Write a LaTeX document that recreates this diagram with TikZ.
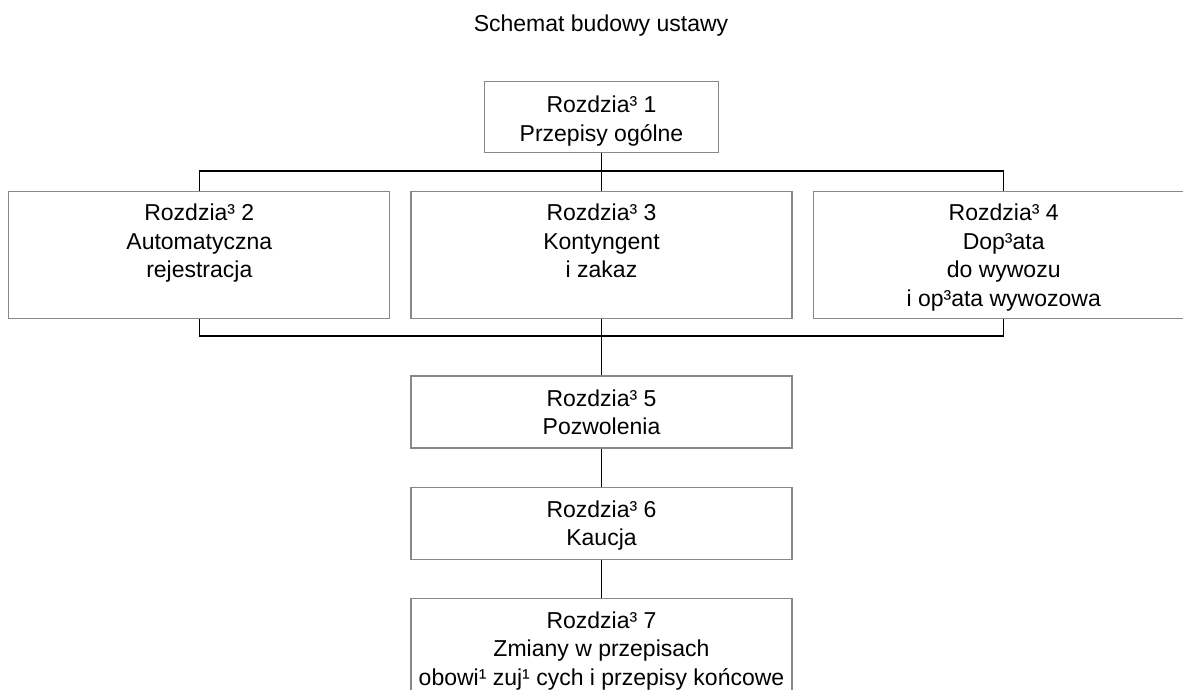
\documentclass[tikz,border=0pt]{standalone}
\usepackage{fontspec}
\setmainfont{Liberation Sans}
\usepackage{tikz}
\usetikzlibrary{positioning}
\definecolor{boxgray}{HTML}{888888}

\begin{document}
\begin{tikzpicture}[x=1pt, y=-1pt, node distance=38pt, line width=1.4pt,
  chap/.style={draw=boxgray, line width=1.2pt, inner sep=0pt,
    font=\fontsize{23}{28.5}\selectfont}]

  \useasboundingbox (0,0) rectangle (1183,689);
  \clip (0,0) rectangle (1183,689);

  \node[font=\fontsize{23}{28.5}\selectfont] (title) at (601,26) {Schemat budowy ustawy};

  % rozdzialy
  \node[chap, anchor=north] (r1) at (601.5,81)
    {\parbox[c][71pt][t]{234pt}{\centering\rule{0pt}{31pt}Rozdzia³ 1\\Przepisy ogólne}};
  \node[chap, below=of r1] (r3)
    {\parbox[c][127pt][t]{381pt}{\centering\rule{0pt}{29pt}Rozdzia³ 3\\Kontyngent\\i zakaz}};
  \node[chap, left=20pt of r3] (r2)
    {\parbox[c][127pt][t]{381pt}{\centering\rule{0pt}{29pt}Rozdzia³ 2\\Automatyczna\\rejestracja}};
  \node[chap, right=20pt of r3] (r4)
    {\parbox[c][127pt][t]{381pt}{\centering\rule{0pt}{29pt}Rozdzia³ 4\\Dop³ata\\do wywozu\\i op³ata wywozowa}};
  \node[chap, below=56pt of r3] (r5)
    {\parbox[c][72pt][t]{381pt}{\centering\rule{0pt}{30pt}Rozdzia³ 5\\Pozwolenia}};
  \node[chap, below=of r5] (r6)
    {\parbox[c][72pt][t]{381pt}{\centering\rule{0pt}{30pt}Rozdzia³ 6\\Kaucja}};
  \node[chap, below=of r6] (r7)
    {\parbox[c][110pt][t]{381pt}{\centering\rule{0pt}{30pt}Rozdzia³ 7\\Zmiany w przepisach\\obowi¹ zuj¹ cych i przepisy końcowe}};

  % polaczenia
  \coordinate (bus1) at (601,171);
  \coordinate (bus2) at (601,336);
  \draw (r1) -- (r3);
  \draw (r2.north) -- (r2.north |- bus1) -- (r4.north |- bus1) -- (r4.north);
  \draw (r2.south) -- (r2.south |- bus2) -- (r4.south |- bus2) -- (r4.south);
  \draw (r3) -- (r5);
  \draw (r5) -- (r6);
  \draw (r6) -- (r7);

\end{tikzpicture}
\end{document}
